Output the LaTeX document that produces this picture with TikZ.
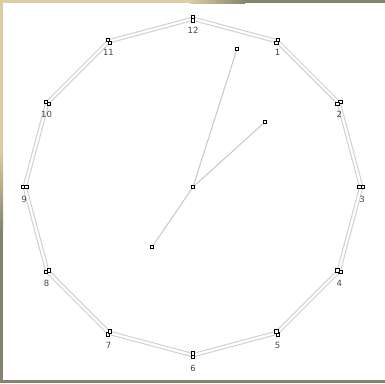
\documentclass[tikz,border=0pt]{standalone}
\usepackage{fontspec}
\setmainfont{DejaVu Sans}
\definecolor{beigeband}{RGB}{220,205,165}
\definecolor{oliveband}{RGB}{133,132,106}
\definecolor{rim}{RGB}{208,208,208}
\definecolor{handc}{RGB}{200,200,200}
\definecolor{lblc}{RGB}{70,70,70}
\pgfdeclarelayer{bg}
\pgfdeclarelayer{paper}
\pgfsetlayers{paper,bg,main}
\begin{document}
\begin{tikzpicture}[x=1pt,y=-1pt,
  vtx/.style={draw=black,fill=white,line width=0.8pt,minimum size=3.6pt,inner sep=0pt},
  rimline/.style={draw=rim,line width=1pt},
  handline/.style={draw=handc,line width=1pt},
  lbl/.style={text=lblc,font=\fontsize{8.5pt}{9pt}\selectfont,inner sep=0pt}]
\useasboundingbox (0,0) rectangle (385,383);
\begin{pgfonlayer}{paper}
\fill[white] (0,0) rectangle (385,383);
% frame bands
\fill[beigeband] (0,0) rectangle (190,3);
\shade[left color=beigeband,right color=oliveband] (190,0) rectangle (245,3);
\fill[oliveband] (245,0) rectangle (385,3);
\fill[beigeband] (0,0) rectangle (3,150);
\shade[top color=beigeband,bottom color=oliveband] (0,150) rectangle (3,230);
\fill[oliveband] (0,230) rectangle (3,383);
\fill[oliveband] (0,380) rectangle (385,383);
\end{pgfonlayer}
% vertices and labels
\foreach \k in {1,...,12}{
  \pgfmathsetmacro\a{90-30*\k}
  \node[vtx] (o\k) at ({193+170*cos(\a)},{187-170*sin(\a)}) {};
  \node[vtx] (i\k) at ({193+166.5*cos(\a)},{187-166.5*sin(\a)}) {};
  \node[lbl] (l\k) at ({193+169*cos(\a)},{187-169*sin(\a)+12}) {\k};
}
\begin{pgfonlayer}{bg}
\draw[rimline] (o1.center) -- (o2.center) -- (o3.center) -- (o4.center) -- (o5.center) -- (o6.center) -- (o7.center) -- (o8.center) -- (o9.center) -- (o10.center) -- (o11.center) -- (o12.center) -- cycle;
\draw[rimline] (i1.center) -- (i2.center) -- (i3.center) -- (i4.center) -- (i5.center) -- (i6.center) -- (i7.center) -- (i8.center) -- (i9.center) -- (i10.center) -- (i11.center) -- (i12.center) -- cycle;
\end{pgfonlayer}
% hands
\node[vtx] (c) at (193,187) {};
\node[vtx] (mh) at (237,49) {};
\node[vtx] (hh) at (265,122) {};
\node[vtx] (sh) at (152,247) {};
\begin{pgfonlayer}{bg}
\draw[handline] (c.center) -- (mh.center);
\draw[handline] (c.center) -- (hh.center);
\draw[handline] (c.center) -- (sh.center);
\end{pgfonlayer}
\end{tikzpicture}
\end{document}
